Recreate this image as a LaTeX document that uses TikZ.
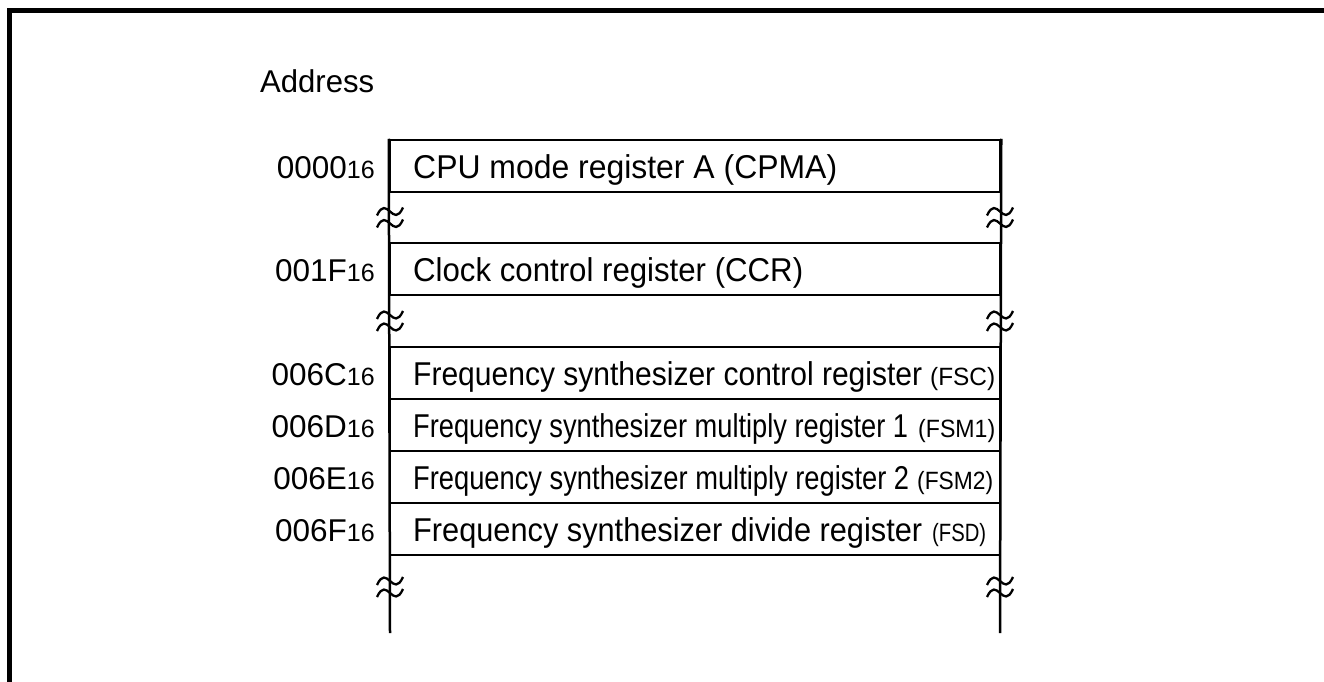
\documentclass[tikz,border=0pt]{standalone}
\usepackage{fontspec}
\setmainfont{Liberation Sans}
\usepackage{graphicx}
\newcommand\bigf{\fontsize{33}{38}\selectfont}
\newcommand\adrf{\fontsize{31.5}{37}\selectfont}
\newcommand\smf{\fontsize{25}{29}\selectfont}
\newcommand\hx[2]{#1{\smf #2}}
\begin{document}
\begin{tikzpicture}[x=1pt,y=-1pt,
  frame/.style={line width=5pt, line join=miter},
  rowbox/.style={draw, line width=2.5pt, minimum width=610pt, minimum height=52pt, inner sep=0pt},
  lineb/.style={line width=2.5pt},
  lbl/.style={anchor=base west, inner sep=0pt, font=\bigf},
  slbl/.style={anchor=base west, inner sep=0pt, font=\smf},
  adr/.style={anchor=base east, inner sep=0pt, font=\adrf},
  brk/.pic={
    \draw[line width=2.3pt] (-13,-2) .. controls (-3,-24) and (3,12) .. (13,-10);
    \draw[line width=2.3pt] (-13,10) .. controls (-3,-12) and (3,24) .. (13,2);
  }]
\useasboundingbox (0,0) rectangle (1324,682);
% frame
\draw[frame] (9.5,700) -- (9.5,10.5) -- (1340,10.5);
% title
\node[anchor=base west, inner sep=0pt, font=\adrf] (addr) at (260,93) {\resizebox{114pt}{\height}{Address}};
% rows
\node[rowbox] (r1) at (695,166) {};
\node[rowbox] (r2) at (695,269) {};
\node[rowbox] (r3) at (695,373) {};
\node[rowbox] (r4) at (695,425) {};
\node[rowbox] (r5) at (695,477) {};
\node[rowbox] (r6) at (695,529) {};
% side lines
\coordinate (bl) at (390,633);
\coordinate (br) at (1000,633);
\draw[lineb] (r1.north west) -- (bl);
\draw[lineb] (r1.north east) -- (br);
% breaks
\pic at (390,217.5) {brk};
\pic at (1000,217.5) {brk};
\pic at (390,321) {brk};
\pic at (1000,321) {brk};
\pic at (390,587) {brk};
\pic at (1000,587) {brk};
% addresses
\node[adr] (a1) at (375,178) {\hx{0000}{16}};
\node[adr] (a2) at (375,281) {\hx{001F}{16}};
\node[adr] (a3) at (375,385) {\hx{006C}{16}};
\node[adr] (a4) at (375,437) {\hx{006D}{16}};
\node[adr] (a5) at (375,489) {\hx{006E}{16}};
\node[adr] (a6) at (375,541) {\hx{006F}{16}};
% row texts
\node[lbl] (t1) at (413,178) {\resizebox{424pt}{\height}{CPU mode register A (CPMA)}};
\node[lbl] (t2) at (413,281) {\resizebox{390pt}{\height}{Clock control register (CCR)}};
\node[lbl] (t3) at (413,385) {\resizebox{509pt}{\height}{Frequency synthesizer control register}};
\node[slbl] (s3) at (930,385) {\resizebox{65pt}{\height}{(FSC)}};
\node[lbl] (t4) at (413,437) {\resizebox{495pt}{\height}{Frequency synthesizer multiply register 1}};
\node[slbl] (s4) at (918,437) {\resizebox{77pt}{\height}{(FSM1)}};
\node[lbl] (t5) at (413,489) {\resizebox{496pt}{\height}{Frequency synthesizer multiply register 2}};
\node[slbl] (s5) at (917,489) {\resizebox{76pt}{\height}{(FSM2)}};
\node[lbl] (t6) at (413,541) {\resizebox{509pt}{\height}{Frequency synthesizer divide register}};
\node[slbl] (s6) at (932,541) {\resizebox{54pt}{\height}{(FSD)}};
\end{tikzpicture}
\end{document}
